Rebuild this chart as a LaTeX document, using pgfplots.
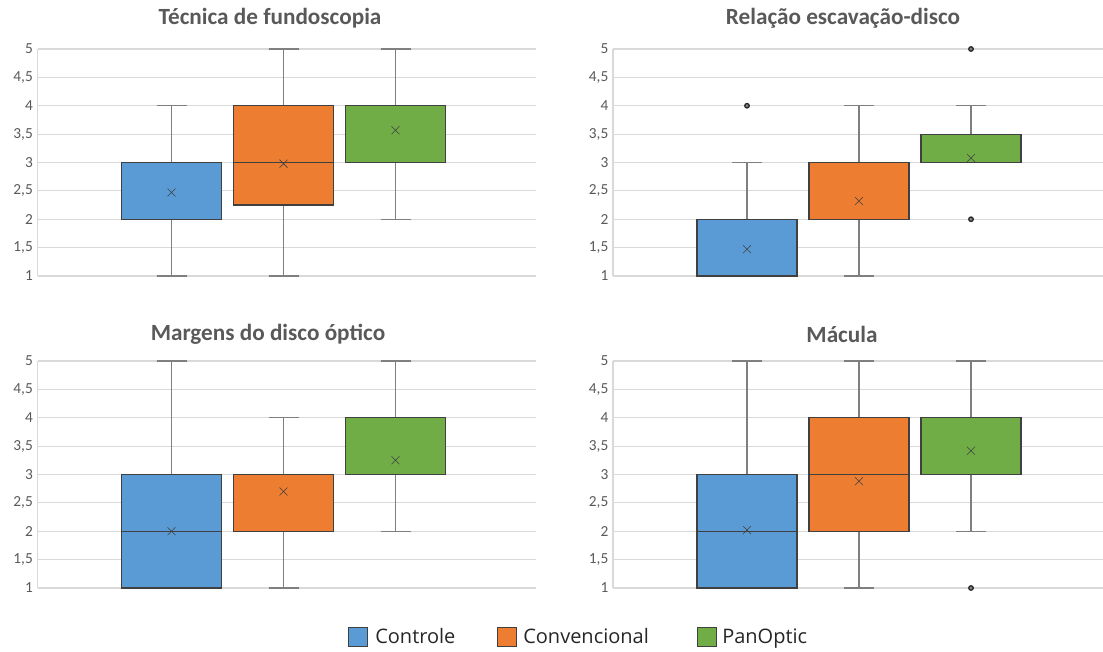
\documentclass[border=0pt]{standalone}
\usepackage{pgfplots}
\pgfplotsset{compat=1.18}
\usepgfplotslibrary{statistics}
\usepackage{fontspec}
\setmainfont{Carlito}
\newfontfamily\legfont{Open Sans}
\definecolor{cblue}{HTML}{5B9BD5}
\definecolor{corange}{HTML}{ED7D31}
\definecolor{cgreen}{HTML}{70AD47}
\definecolor{cgrid}{HTML}{D9D9D9}
\definecolor{ctext}{HTML}{595959}
\definecolor{cbord}{HTML}{404040}
\definecolor{cwhisk}{HTML}{7F7F7F}
\pgfplotsset{
  panel/.style={
    scale only axis, width=373.5pt, height=170.25pt,
    xmin=0, xmax=498, ymin=1, ymax=5,
    ytick={1,1.5,...,5}, xtick=\empty,
    ymajorgrids, grid style={cgrid, line width=0.9pt},
    axis line style={cgrid, line width=0.9pt},
    axis x line=none, axis y line*=left,
    major tick length=0pt,
    tick label style={font=\fontsize{11.5}{12}\selectfont, text=ctext},
    /pgf/number format/.cd, use comma, assume math mode=true,
    /pgfplots/.cd,
    clip=false,
    boxplot/draw direction=y,
    boxplot/box extend=100,
    boxplot/whisker extend=30,
    boxplot/every whisker/.style={draw=cwhisk, line width=1.1pt},
    boxplot/every box/.style={draw=cbord, line width=0.9pt},
    boxplot/every median/.style={draw=cbord, line width=1.1pt},
    boxplot/every average/.style={/tikz/mark=x, /tikz/mark size=4.2pt,
       /tikz/every mark/.append style={draw=black!90, line width=1.3pt}},
  },
  bx/.style={fill=#1, draw=cbord, mark=*, mark size=1.7pt,
     mark options={fill=black!50, draw=black!85, line width=0.95pt}},
}
\begin{document}
\begin{tikzpicture}
\useasboundingbox (0,0) rectangle (827.25pt,489pt);
% ---------- Panel 1 ----------
\begin{axis}[panel, at={(28.125pt,282pt)}, anchor=south west]
\addplot[bx=cblue, boxplot prepared={draw position=134, lower whisker=1, lower quartile=2, median=2, upper quartile=3, upper whisker=4, average=2.47}] coordinates {};
\addplot[bx=corange, boxplot prepared={draw position=246, lower whisker=1, lower quartile=2.25, median=3, upper quartile=4, upper whisker=5, average=2.98}] coordinates {};
\addplot[bx=cgreen, boxplot prepared={draw position=358, lower whisker=2, lower quartile=3, median=4, upper quartile=4, upper whisker=5, average=3.57}] coordinates {};
\end{axis}
% ---------- Panel 2 ----------
\begin{axis}[panel, at={(459.75pt,282pt)}, anchor=south west]
\addplot[bx=cblue, boxplot prepared={draw position=134, lower whisker=1, lower quartile=1, median=1, upper quartile=2, upper whisker=3, average=1.47}] table[row sep=\\, y index=0] {data\\ 4\\};
\addplot[bx=corange, boxplot prepared={draw position=246, lower whisker=1, lower quartile=2, median=2, upper quartile=3, upper whisker=4, average=2.32}] coordinates {};
\addplot[bx=cgreen, boxplot prepared={draw position=358, lower whisker=3, lower quartile=3, median=3, upper quartile=3.5, upper whisker=4, average=3.08}] table[row sep=\\, y index=0] {data\\ 2\\ 5\\};
\end{axis}
% ---------- Panel 3 ----------
\begin{axis}[panel, at={(28.125pt,48pt)}, anchor=south west]
\addplot[bx=cblue, boxplot prepared={draw position=134, lower whisker=1, lower quartile=1, median=2, upper quartile=3, upper whisker=5, average=2.0}] coordinates {};
\addplot[bx=corange, boxplot prepared={draw position=246, lower whisker=1, lower quartile=2, median=3, upper quartile=3, upper whisker=4, average=2.7}] coordinates {};
\addplot[bx=cgreen, boxplot prepared={draw position=358, lower whisker=2, lower quartile=3, median=3, upper quartile=4, upper whisker=5, average=3.25}] coordinates {};
\end{axis}
% ---------- Panel 4 ----------
\begin{axis}[panel, at={(459.75pt,48pt)}, anchor=south west]
\addplot[bx=cblue, boxplot prepared={draw position=134, lower whisker=1, lower quartile=1, median=2, upper quartile=3, upper whisker=5, average=2.02}] coordinates {};
\addplot[bx=corange, boxplot prepared={draw position=246, lower whisker=1, lower quartile=2, median=3, upper quartile=4, upper whisker=5, average=2.88}] coordinates {};
\addplot[bx=cgreen, boxplot prepared={draw position=358, lower whisker=2, lower quartile=3, median=3, upper quartile=4, upper whisker=5, average=3.42}] table[row sep=\\, y index=0] {data\\ 1\\};
\end{axis}
% ---------- Titles ----------
\begin{scope}[every node/.style={font=\fontsize{17.4}{18}\selectfont\bfseries, text=ctext}]
\node at (202.5pt,475.5pt) {Técnica de fundoscopia};
\node at (632.25pt,475.5pt) {Relação escavação-disco};
\node at (201pt,238.5pt) {Margens do disco óptico};
\node at (631.5pt,238.5pt) {Mácula};
\end{scope}
% ---------- Legend ----------
\begin{scope}[every node/.style={font=\legfont\fontsize{15}{16}\selectfont, text=black!85, anchor=base west, inner sep=0pt}]
\draw[fill=cblue, draw=cbord, line width=0.6pt] (261pt,4.5pt) rectangle +(14.25pt,14.25pt);
\node at (281.25pt,6pt) {Controle};
\draw[fill=corange, draw=cbord, line width=0.6pt] (372.75pt,4.5pt) rectangle +(14.25pt,14.25pt);
\node at (392.25pt,6pt) {Convencional};
\draw[fill=cgreen, draw=cbord, line width=0.6pt] (522.75pt,4.5pt) rectangle +(14.25pt,14.25pt);
\node at (541.5pt,6pt) {PanOptic};
\end{scope}
\end{tikzpicture}
\end{document}
